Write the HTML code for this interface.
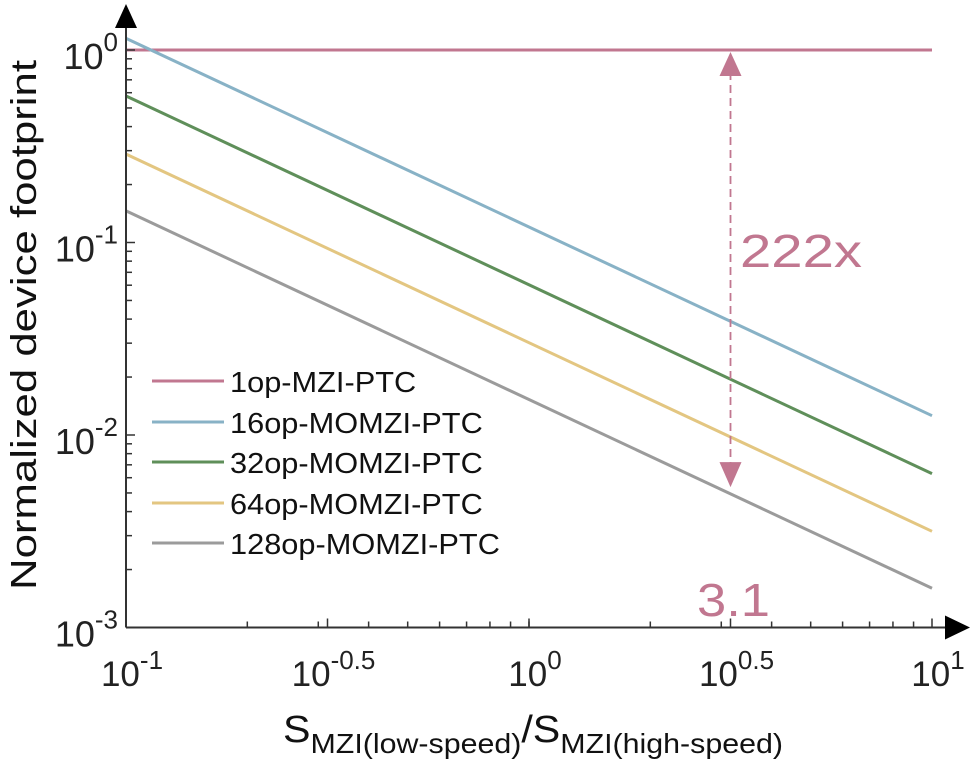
<!DOCTYPE html>
<html><head><meta charset="utf-8"><style>
body{margin:0;background:#fff;}
svg text{font-family:"Liberation Sans",Arial,sans-serif;}
</style></head><body>
<svg id="chart" width="974" height="765" viewBox="0 0 974 765" xmlns="http://www.w3.org/2000/svg"></svg>
<script>
const seriesNames = ["1op-MZI-PTC","16op-MOMZI-PTC","32op-MOMZI-PTC","64op-MOMZI-PTC","128op-MOMZI-PTC"];
const xEnds = [0.1, 10];
const s1op = [1, 1];
const s16op = [1.15, 0.0126];
const s32op = [0.577, 0.0063];
const s64op = [0.288, 0.00316];
const s128op = [0.146, 0.0016];
const xTickExp = [-1, -0.5, 0, 0.5, 1];
const xTickLabels = ["-1","-0.5","0","0.5","1"];
const yTickExp = [0, -1, -2, -3];
const yTickLabels = ["0","-1","-2","-3"];
const arrowX = 3.1623;
const arrowTop = 1;
const arrowBottom = 0.0053;
const arrowLabel = "222x";
const arrowXLabel = "3.1";

const colors = ["#c17790","#88b2c6","#5f8f5a","#e3c681","#9b9b9b"];
const series = [s1op,s16op,s32op,s64op,s128op];
const X0=126, DX=403, Y0=50, DY=192.5;
const xs = v => X0 + (Math.log10(v)+1)*DX;
const ys = v => Y0 - Math.log10(v)*DY;
const svg = document.getElementById('chart');
const NS="http://www.w3.org/2000/svg";
function mk(tag, attrs, parent){const e=document.createElementNS(NS,tag);for(const k in attrs)e.setAttribute(k,attrs[k]);(parent||svg).appendChild(e);return e;}
function stretch(t,k){const w=t.getComputedTextLength();t.setAttribute('textLength',(w*k).toFixed(1));t.setAttribute('lengthAdjust','spacingAndGlyphs');}

series.forEach((s,i)=>{
  const l = mk('line',{x1:xs(xEnds[0]),y1:ys(s[0]),x2:xs(xEnds[1]),y2:ys(s[1]),stroke:colors[i],'stroke-width':3});
  
  
});

const axisCol="#333";
const ax = mk('g',{});


mk('line',{x1:X0,y1:ys(0.001),x2:X0,y2:22,stroke:axisCol,'stroke-width':2},ax);
mk('line',{x1:X0,y1:ys(0.001),x2:950,y2:ys(0.001),stroke:axisCol,'stroke-width':2},ax);
mk('polygon',{points:`${X0-11},28 ${X0+11},28 ${X0},4`,fill:'#000'},ax);
mk('polygon',{points:`945,${ys(0.001)-12} 945,${ys(0.001)+12} 970,${ys(0.001)}`,fill:'#000'},ax);

for(let d=-3; d<0; d++){
  for(let m=1;m<=9;m++){
    const v=m*Math.pow(10,d); const y=ys(v);
    mk('line',{x1:X0,y1:y,x2:X0+(m===1?9:6),y2:y,stroke:axisCol,'stroke-width':1.5},ax);
  }
}
mk('line',{x1:X0,y1:ys(1),x2:X0+9,y2:ys(1),stroke:axisCol,'stroke-width':1.5},ax);
for(let d=-1; d<1; d++){
  for(let m=1;m<=9;m++){
    const v=m*Math.pow(10,d); const x=xs(v);
    mk('line',{x1:x,y1:ys(0.001),x2:x,y2:ys(0.001)-6,stroke:axisCol,'stroke-width':1.5},ax);
  }
}
xTickExp.forEach((e,i)=>{
  const x = X0+(e+1)*DX;
  mk('line',{x1:x,y1:ys(0.001),x2:x,y2:ys(0.001)-9,stroke:axisCol,'stroke-width':1.5},ax);
  const t = mk('text',{x:x+6,y:686,'font-size':35,fill:'#222','text-anchor':'middle'});
  
  
  const a=mk('tspan',{},t); a.textContent='10';
  const b=mk('tspan',{dy:-17,'font-size':26},t); b.textContent=xTickLabels[i];
});
yTickExp.forEach((e,i)=>{
  const y = Y0 - e*DY;
  const t = mk('text',{x:118,y:y+19,'font-size':36,fill:'#222','text-anchor':'end'});
  
  
  const a=mk('tspan',{},t); a.textContent='10';
  const b=mk('tspan',{dy:-18,'font-size':26},t); b.textContent=yTickLabels[i];
});

const ac="#c17790";
const ag = mk('g',{});


const axp=xs(arrowX);
mk('line',{x1:axp,y1:ys(arrowTop)+22,x2:axp,y2:ys(arrowBottom)-22,stroke:ac,'stroke-width':1.8,'stroke-dasharray':'8,5'},ag);
mk('polygon',{points:`${axp-11},${ys(arrowTop)+26} ${axp+11},${ys(arrowTop)+26} ${axp},${ys(arrowTop)+2}`,fill:ac},ag);
mk('polygon',{points:`${axp-11},${ys(arrowBottom)-26} ${axp+11},${ys(arrowBottom)-26} ${axp},${ys(arrowBottom)-1}`,fill:ac},ag);
const rl=mk('text',{x:740,y:267,'font-size':46,fill:ac,textLength:122,lengthAdjust:'spacingAndGlyphs'});
rl.textContent=arrowLabel;


const xl=mk('text',{x:697,y:616,'font-size':46,fill:ac,textLength:73,lengthAdjust:'spacingAndGlyphs'});
xl.textContent=arrowXLabel;



const lg = mk('g',{});


const rowsY=[381,422,462,503,543];
seriesNames.forEach((n,i)=>{
  const g=mk('g',{},lg);
  
  
  mk('line',{x1:152,y1:rowsY[i],x2:224,y2:rowsY[i],stroke:colors[i],'stroke-width':3},g);
  const t=mk('text',{x:230,y:rowsY[i]+11,'font-size':29,fill:'#111'},g);
  t.textContent=n;
  stretch(t,1.06);
});

const yt=mk('text',{x:0,y:0,'font-size':36,fill:'#111','text-anchor':'middle',transform:'translate(36,325) rotate(-90)'});
yt.textContent='Normalized device footprint';


yt.setAttribute('textLength','530');
yt.setAttribute('lengthAdjust','spacingAndGlyphs');
const xt=mk('text',{x:283,y:742,'font-size':38,fill:'#111'});


const p1=mk('tspan',{},xt); p1.textContent='S';
const p2=mk('tspan',{dy:11,'font-size':28},xt); p2.textContent='MZI(low-speed)';
const p3=mk('tspan',{dy:-11},xt); p3.textContent='/S';
const p4=mk('tspan',{dy:11,'font-size':28},xt); p4.textContent='MZI(high-speed)';
stretch(xt, 500/xt.getComputedTextLength());
</script>
</body></html>
